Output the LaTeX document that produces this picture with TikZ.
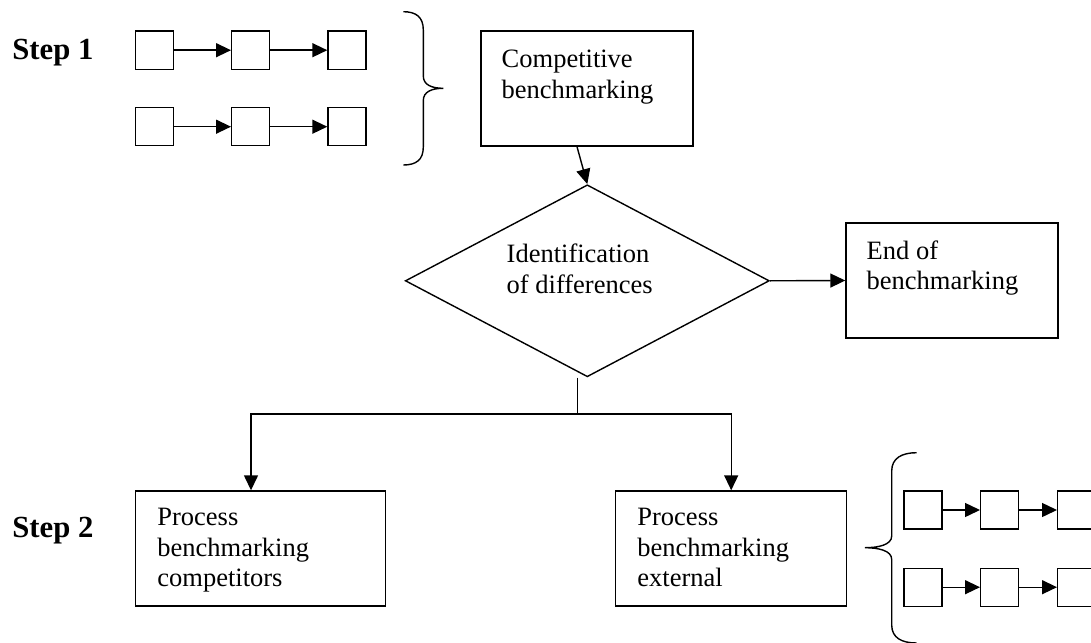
\documentclass[tikz,border=0pt]{standalone}
\usepackage{fontspec}
\setmainfont{Liberation Serif}
\usetikzlibrary{arrows.meta,shapes.geometric}
\begin{document}
\begin{tikzpicture}[x=1pt,y=-1pt,line width=1.4pt,
  box/.style={draw,rectangle,inner sep=0pt,minimum width=#1,minimum height=115pt},
  box/.default=212pt,
  sq/.style={draw,rectangle,inner sep=0pt,minimum size=38pt},
  arr/.style={-{Triangle[length=15pt,width=14pt]}},
  txt/.style={inner sep=0pt,align=left,anchor=north west,font=\fontsize{26.5}{30.5}\selectfont},
  steplbl/.style={inner sep=0pt,anchor=base west,font=\fontsize{30.7}{34}\selectfont\bfseries},
  dia/.style={draw,diamond,inner sep=0pt,minimum width=364pt,minimum height=192pt},
  bracepath/.style={line width=1.4pt}]
\useasboundingbox (0,0) rectangle (1091,642);
\clip (0,0) rectangle (1091,642);
\fill[white] (0,0) rectangle (1091,642);

% step labels
\node[steplbl] (s1) at (11.7,59.3) {Step 1};
\node[steplbl] (s2) at (11.7,537.3) {Step 2};

% main boxes
\node[box=212pt] (comp) at (587,88.5) {};
\node[box=212pt] (endb) at (952,280.5) {};
\node[box=250pt] (proc1) at (260.7,548.5) {};
\node[box=231pt] (proc2) at (731.2,548.5) {};
\node[dia] (diam) at (587.3,280.8) {};

% texts
\node[txt] (tcomp) at (501,45.65) {\strut Competitive\\benchmarking};
\node[txt] (tend) at (866,236.95) {\strut End of\\benchmarking};
\node[txt] (tproc1) at (156.7,503.65) {\strut Process\\benchmarking\\competitors};
\node[txt] (tproc2) at (636.7,503.65) {\strut Process\\benchmarking\\external};
\node[txt] (tdiam) at (506,240.65) {\strut Identification\\of differences};

% chains, step 1
\foreach \r/\y in {1/50.2,2/126.7}{
  \node[sq] (a\r1) at (154.7,\y) {};
  \node[sq] (a\r2) at (250.7,\y) {};
  \node[sq] (a\r3) at (347,\y) {};
  \draw[arr] (a\r1) -- (a\r2);
  \draw[arr] (a\r2) -- (a\r3);
}
% chains, step 2
\foreach \r/\y in {1/510,2/587.2}{
  \node[sq] (b\r1) at (923,\y) {};
  \node[sq] (b\r2) at (999.7,\y) {};
  \node[sq] (b\r3) at (1076.7,\y) {};
  \draw[arr] (b\r1) -- (b\r2);
  \draw[arr] (b\r2) -- (b\r3);
}

% braces
\draw[bracepath] (403.3,11.7) .. controls (416,11.7) and (423.3,17) .. (423.3,30)
  -- (423.3,76) .. controls (423.3,85) and (432,88.3) .. (443.3,88.3)
  .. controls (432,88.3) and (423.3,91.6) .. (423.3,100.6)
  -- (423.3,147) .. controls (423.3,160) and (416,165) .. (403.3,165);
\draw[bracepath] (916.7,452.7) .. controls (902,452.7) and (891.7,458) .. (891.7,471)
  -- (891.7,536) .. controls (891.7,545) and (878,547.7) .. (865,547.7)
  .. controls (878,547.7) and (891.7,550.4) .. (891.7,559.4)
  -- (891.7,625) .. controls (891.7,638) and (902,643) .. (916.7,643);

% connectors
\draw[arr] ([xshift=-10pt]comp.south) -- (diam.north);
\draw[arr] (diam.east) -- (endb.west);
\coordinate (stub) at ([xshift=-10pt]diam.south);
\coordinate (junc) at (577.3,414);
\draw (stub) -- (junc);
\draw[arr] (junc) -| ([xshift=-9.7pt]proc1.north);
\draw[arr] (junc) -| (proc2.north);
\end{tikzpicture}
\end{document}
